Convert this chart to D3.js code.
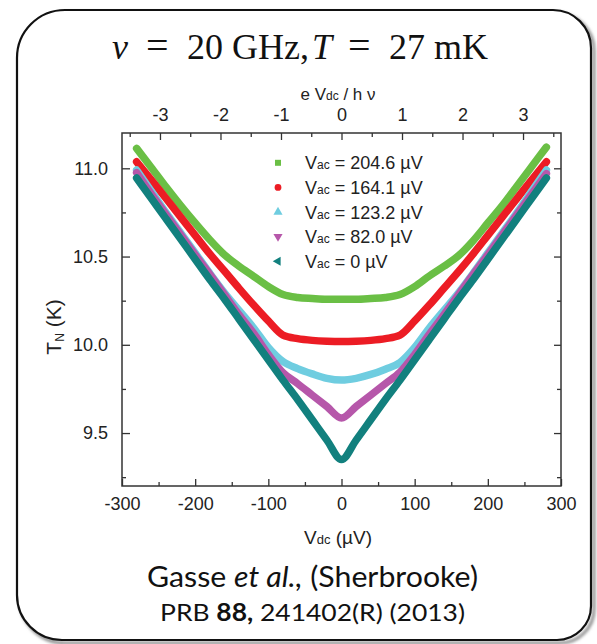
<!DOCTYPE html>
<html><head><meta charset="utf-8">
<script src="https://cdn.jsdelivr.net/npm/d3@7"></script>
<style>body{margin:0;background:#fff}</style>
</head><body>
<svg id="c" width="597" height="644"></svg>
<script>
// ---- data ----
const vdc = [-280,-260,-240,-220,-200,-180,-160,-140,-120,-100,-80,-60,-40,-20,0,20,40,60,80,100,120,140,160,180,200,220,240,260,280];
const tN_204_6 = [11.113,11.005,10.895,10.79,10.69,10.595,10.51,10.445,10.388,10.33,10.285,10.268,10.262,10.258,10.258,10.258,10.262,10.268,10.285,10.33,10.39,10.445,10.505,10.59,10.69,10.79,10.90,11.01,11.12];
const tN_164_1 = [11.037,10.935,10.83,10.725,10.62,10.515,10.418,10.32,10.225,10.135,10.055,10.035,10.025,10.02,10.018,10.02,10.025,10.035,10.055,10.135,10.225,10.32,10.415,10.515,10.62,10.725,10.83,10.935,11.037];
const tN_123_2 = [10.99,10.87,10.75,10.635,10.52,10.405,10.295,10.195,10.095,9.985,9.905,9.865,9.835,9.81,9.80,9.81,9.832,9.862,9.90,9.985,10.095,10.195,10.295,10.405,10.52,10.635,10.75,10.87,10.99];
const tN_82_0 = [10.975,10.855,10.74,10.625,10.51,10.40,10.285,10.17,10.065,9.945,9.842,9.78,9.715,9.65,9.585,9.65,9.715,9.78,9.845,9.945,10.06,10.17,10.285,10.40,10.51,10.625,10.74,10.855,10.97];
const tN_0 = [10.945,10.83,10.715,10.60,10.485,10.37,10.26,10.145,10.03,9.915,9.80,9.69,9.575,9.46,9.35,9.46,9.575,9.69,9.80,9.915,10.03,10.145,10.26,10.37,10.485,10.60,10.715,10.83,10.945];
const seriesNames = ["204.6","164.1","123.2","82.0","0"];
const seriesValues = [tN_204_6, tN_164_1, tN_123_2, tN_82_0, tN_0];
const seriesColors = ["#6abf45","#ec1c24","#6fcde0","#b657aa","#12807e"];
const xTicks = [-300,-200,-100,0,100,200,300];
const xMinor = [-250,-150,-50,50,150,250];
const yTicks = [9.5,10.0,10.5,11.0];
const yMinor = [9.25,9.75,10.25,10.75];
const topTicks = [-3,-2,-1,0,1,2,3];
const topMinor = [-3.5,-2.5,-1.5,-0.5,0.5,1.5,2.5,3.5];
const hNu = 82.7; // µV for 20 GHz

const svg = d3.select("#c");
const L=122, R=561, T=133, B=486;
const x = d3.scaleLinear().domain([-300,300]).range([L,R]);
const y = d3.scaleLinear().domain([9.2,11.2]).range([B,T]);
const x2 = d3.scaleLinear().domain([-300/hNu,300/hNu]).range([L,R]);

// outer rounded box with shadow
const defs = svg.append("defs");
const f = defs.append("filter").attr("id","sh").attr("x","-5%").attr("y","-5%").attr("width","115%").attr("height","115%");
f.append("feGaussianBlur").attr("stdDeviation",1.5);
const boxPath = "M65,10 H553 A38,38 0 0 1 591,48 V606 A34,34 0 0 1 557,640 H62 A45,45 0 0 1 17,595 V58 A48,48 0 0 1 65,10 Z";
svg.append("path").attr("d",boxPath).attr("transform","translate(3,3)").attr("fill","none")
  .attr("stroke","#8a8a8a").attr("stroke-width",3).attr("filter","url(#sh)");
svg.append("path").attr("d",boxPath).attr("fill","#fff").attr("stroke","#111").attr("stroke-width",2.2);

// title
const title = svg.append("text").attr("y",59).attr("font-family","'Liberation Serif','Times New Roman',serif")
  .attr("font-size",36).attr("fill","#111");
title.append("tspan").attr("x",112).attr("font-style","italic").text("ν");
title.append("tspan").attr("x",146).attr("font-size",40).text("=");
title.append("tspan").attr("x",187).text("20 GHz,");
title.append("tspan").attr("x",312).attr("font-style","italic").text("T");
title.append("tspan").attr("x",348).attr("font-size",40).text("=");
title.append("tspan").attr("x",389).text("27 mK");

const sans = "'Liberation Sans',Arial,Helvetica,sans-serif";
const axColor = "#333";

// curves
const line = d3.line().x((d,i)=>x(vdc[i])).y(d=>y(d)).curve(d3.curveMonotoneX);
const g = svg.append("g");
seriesValues.forEach((vals,k)=>{
  g.append("path").attr("d",line(vals)).attr("fill","none").attr("stroke",seriesColors[k])
   .attr("stroke-width",7.5).attr("stroke-linecap","round").attr("stroke-linejoin","round");
});

// axes
function styleAxis(sel){
  sel.selectAll(".domain").remove();
  sel.selectAll("line").attr("stroke",axColor).attr("stroke-width",1.3);
  sel.selectAll("text").attr("font-family",sans).attr("font-size",18).attr("fill","#222");
}
const fmtInt = d=>String(d);
svg.append("g").attr("transform",`translate(0,${B})`)
  .call(d3.axisBottom(x).tickValues(xTicks).tickFormat(fmtInt).tickSize(-7).tickPadding(11)).call(styleAxis);
svg.append("g").attr("transform",`translate(0,${B})`)
  .call(d3.axisBottom(x).tickValues(xMinor).tickFormat("").tickSize(-4)).call(styleAxis);
svg.append("g").attr("transform",`translate(0,${T})`)
  .call(d3.axisTop(x2).tickValues(topTicks).tickFormat(fmtInt).tickSize(-7).tickPadding(12)).call(styleAxis);
svg.append("g").attr("transform",`translate(0,${T})`)
  .call(d3.axisTop(x2).tickValues(topMinor).tickFormat("").tickSize(-4)).call(styleAxis);
svg.append("g").attr("transform",`translate(${L},0)`)
  .call(d3.axisLeft(y).tickValues(yTicks).tickFormat(d3.format(".1f")).tickSize(-8).tickPadding(14)).call(styleAxis);
svg.append("g").attr("transform",`translate(${L},0)`)
  .call(d3.axisLeft(y).tickValues(yMinor).tickFormat("").tickSize(-4)).call(styleAxis);
svg.append("g").attr("transform",`translate(${R},0)`)
  .call(d3.axisRight(y).tickValues(yTicks).tickFormat("").tickSize(-7)).call(styleAxis);
svg.append("g").attr("transform",`translate(${R},0)`)
  .call(d3.axisRight(y).tickValues(yMinor).tickFormat("").tickSize(-4)).call(styleAxis);
svg.append("rect").attr("x",L).attr("y",T).attr("width",R-L).attr("height",B-T)
  .attr("fill","none").attr("stroke",axColor).attr("stroke-width",1.5);

// axis titles
const xt = svg.append("text").attr("x",338).attr("y",544).attr("text-anchor","middle")
  .attr("font-family",sans).attr("font-size",19).attr("fill","#222");
xt.append("tspan").text("V");
xt.append("tspan").attr("font-size",13).text("dc");
xt.append("tspan").text(" (µV)");

const tt = svg.append("text").attr("x",338).attr("y",100).attr("text-anchor","middle")
  .attr("font-family",sans).attr("font-size",17).attr("fill","#222");
tt.append("tspan").text("e V");
tt.append("tspan").attr("font-size",12).text("dc");
tt.append("tspan").text(" / h ν");

const yt = svg.append("text").attr("transform","translate(61,327) rotate(-90)").attr("text-anchor","middle")
  .attr("font-family",sans).attr("font-size",21).attr("fill","#222");
yt.append("tspan").text("T");
yt.append("tspan").attr("font-size",12).attr("dy",3).text("N");
yt.append("tspan").attr("dy",-3).text(" (K)");

// legend
const symTypes = [
  {t:d3.symbolSquare,r:0,s:36},
  {t:d3.symbolCircle,r:0,s:36},
  {t:d3.symbolTriangle,r:0,s:36},
  {t:d3.symbolTriangle,r:180,s:36},
  {t:d3.symbolTriangle,r:-90,s:36}
];
seriesNames.forEach((nm,k)=>{
  const by = 169.3 + k*24.6;
  svg.append("path").attr("d",d3.symbol().type(symTypes[k].t).size(symTypes[k].s)())
    .attr("transform",`translate(278,${by-6.5}) rotate(${symTypes[k].r})`).attr("fill",seriesColors[k]);
  const tx = svg.append("text").attr("x",305).attr("y",by).attr("font-family",sans)
    .attr("font-size",18).attr("fill","#222");
  tx.append("tspan").text("V");
  tx.append("tspan").attr("font-size",12).text("ac");
  tx.append("tspan").text(` = ${nm} µV`);
});

// caption
const c1 = svg.append("text").attr("x",312.5).attr("y",587).attr("text-anchor","middle")
  .attr("font-family","Lato,'Open Sans',sans-serif").attr("font-size",28).attr("fill","#111")
  .attr("textLength",331).attr("lengthAdjust","spacingAndGlyphs");
c1.append("tspan").text("Gasse ");
c1.append("tspan").attr("font-style","italic").text("et al.,");
c1.append("tspan").text(" (Sherbrooke)");
const c2 = svg.append("text").attr("x",312.5).attr("y",621).attr("text-anchor","middle")
  .attr("font-family","Lato,'Open Sans',sans-serif").attr("font-size",24).attr("fill","#111")
  .attr("textLength",305).attr("lengthAdjust","spacingAndGlyphs");
c2.append("tspan").text("PRB ");
c2.append("tspan").attr("font-weight","bold").text("88,");
c2.append("tspan").text(" 241402(R) (2013)");
</script>
</body></html>
